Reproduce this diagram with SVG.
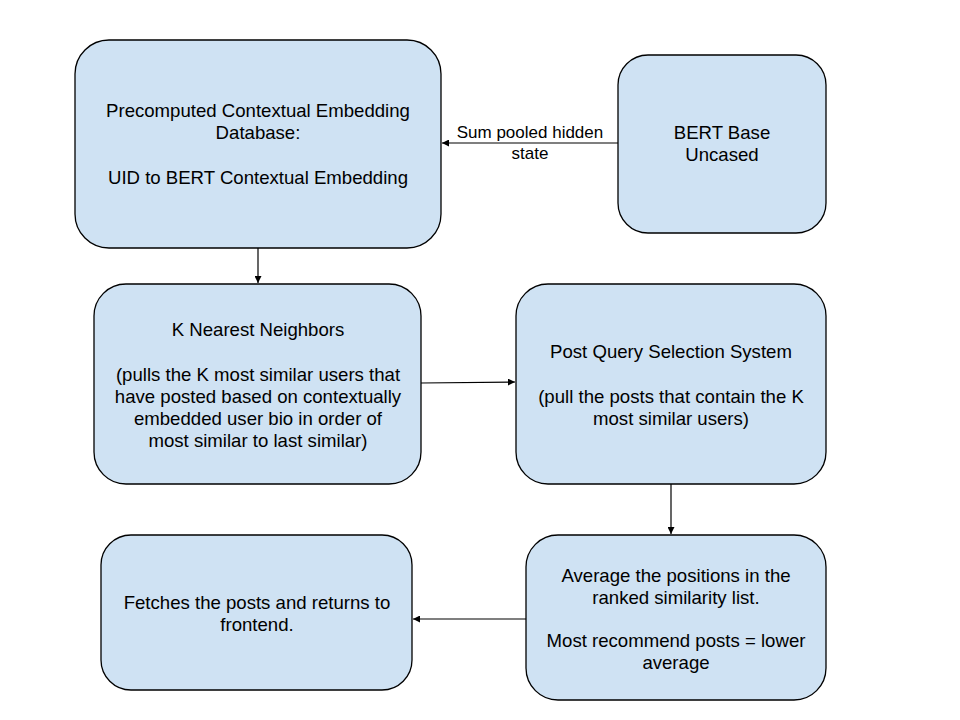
<svg xmlns="http://www.w3.org/2000/svg" width="960" height="720" viewBox="0 0 960 720">
<style>
.box{fill:#cfe2f3;stroke:#000;stroke-width:1.3}
.t{font-family:"Liberation Sans",Arial,sans-serif;font-size:18.6px;fill:#000;text-anchor:middle}
.lbl{font-family:"Liberation Sans",Arial,sans-serif;font-size:17px;fill:#000;text-anchor:middle}
.c{stroke:#000;stroke-width:1.2;fill:none;marker-end:url(#ah)}
</style>
<defs>
<marker id="ah" viewBox="0 0 10 10" refX="10" refY="5" markerWidth="7" markerHeight="7" markerUnits="userSpaceOnUse" orient="auto">
<path d="M0,0 L10,5 L0,10 z" fill="#000"/>
</marker>
</defs>
<rect width="960" height="720" fill="#fff"/>
<g id="connectors">
<line class="c" x1="618" y1="143" x2="442" y2="143"/>
<line class="c" x1="258" y1="248" x2="258" y2="283"/>
<line class="c" x1="421" y1="383" x2="515" y2="382"/>
<line class="c" x1="671" y1="484" x2="671" y2="534"/>
<line class="c" x1="526" y1="619" x2="413" y2="619"/>
<text class="lbl" x="530" y="138">Sum pooled hidden</text>
<text class="lbl" x="530" y="159">state</text>
</g>
<g id="precomputed">
<rect class="box" x="75" y="40" width="366" height="208" rx="34"/>
<text class="t" x="258" y="117">Precomputed Contextual Embedding</text>
<text class="t" x="258" y="139">Database:</text>
<text class="t" x="258" y="184">UID to BERT Contextual Embedding</text>
</g>
<g id="bert">
<rect class="box" x="618" y="55" width="208" height="178" rx="30"/>
<text class="t" x="722" y="139">BERT Base</text>
<text class="t" x="722" y="161">Uncased</text>
</g>
<g id="knn">
<rect class="box" x="94" y="284" width="327" height="200" rx="32"/>
<text class="t" x="258" y="336">K Nearest Neighbors</text>
<text class="t" x="258" y="381">(pulls the K most similar users that</text>
<text class="t" x="258" y="403">have posted based on contextually</text>
<text class="t" x="258" y="425">embedded user bio in order of</text>
<text class="t" x="258" y="447">most similar to last similar)</text>
</g>
<g id="postquery">
<rect class="box" x="516" y="284" width="310" height="200" rx="32"/>
<text class="t" x="671" y="358">Post Query Selection System</text>
<text class="t" x="671" y="403">(pull the posts that contain the K</text>
<text class="t" x="671" y="425">most similar users)</text>
</g>
<g id="average">
<rect class="box" x="526" y="535" width="300" height="165" rx="32"/>
<text class="t" x="676" y="582">Average the positions in the</text>
<text class="t" x="676" y="604">ranked similarity list.</text>
<text class="t" x="676" y="647">Most recommend posts = lower</text>
<text class="t" x="676" y="669">average</text>
</g>
<g id="fetches">
<rect class="box" x="101" y="535" width="311" height="155" rx="30"/>
<text class="t" x="257" y="609">Fetches the posts and returns to</text>
<text class="t" x="257" y="631">frontend.</text>
</g>
</svg>
